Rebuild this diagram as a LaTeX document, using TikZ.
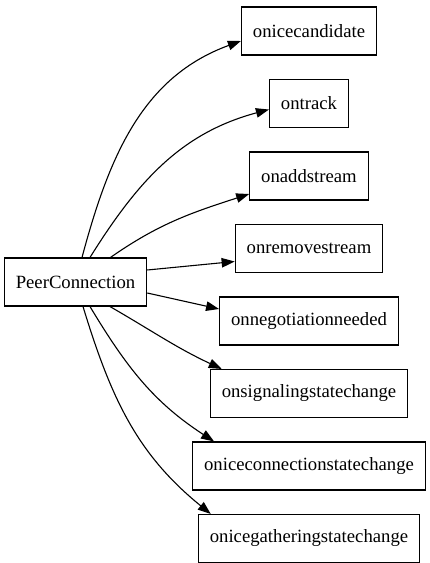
\documentclass[tikz,border=0pt]{standalone}
\usepackage{fontspec}
\setmainfont{Liberation Serif}
\newfontfamily\handlerfont{Liberation Serif}
\usetikzlibrary{
  positioning,
  arrows.meta,
  calc
}
\tikzset{
  base/.style={
    draw, line width=1.1pt, minimum height=48pt,
    inner xsep=11.5pt, font=\handlerfont\fontsize{18.7}{22}\selectfont
  },
  sourceNode/.style={base},
  handlerNode/.style={base},
  handlerArrow/.style={
    draw, -{Triangle[length=13pt,width=9.5pt]}, line width=1.1pt
  }
}

\begin{document}
\begin{tikzpicture}[x=1pt, y=1pt, node distance=23.4pt]
\useasboundingbox (0,0) rectangle (430,-563);

% ── SOURCE ─────────────────────────────────────────────────────────
\node[sourceNode] (pc) at (75.5,-282) {PeerConnection};

% ── HANDLERS ───────────────────────────────────────────────────────
\node[handlerNode] (h1) at (309,-31) {onicecandidate};
\node[handlerNode, below=of h1] (h2) {ontrack};
\node[handlerNode, below=of h2] (h3) {onaddstream};
\node[handlerNode, below=of h3] (h4) {onremovestream};
\node[handlerNode, below=of h4] (h5) {onnegotiationneeded};
\node[handlerNode, below=of h5] (h6) {onsignalingstatechange};
\node[handlerNode, below=of h6] (h7) {oniceconnectionstatechange};
\node[handlerNode, below=of h7] (h8) {onicegatheringstatechange};

% ── EDGES ───────────────────────────────────────────────────────────
% upper fan
\draw[handlerArrow] ([xshift=6.5pt]pc.north) to[out=75, in=200] ([yshift=-10pt]h1.west);
\draw[handlerArrow] ([xshift=14.5pt]pc.north) to[out=58, in=195] ([yshift=-6pt]h2.west);
\draw[handlerArrow] ([xshift=35pt]pc.north) to[out=35, in=198] ([yshift=-18pt]h3.west);

% straight ones
\draw[handlerArrow] ([yshift=12pt]pc.east) -- ([yshift=-13pt]h4.west);
\draw[handlerArrow] ([yshift=-11pt]pc.east) -- ([yshift=12pt]h5.west);

% lower fan
\draw[handlerArrow] ([xshift=34.5pt]pc.south) to[out=-30, in=155] ([xshift=12pt]h6.north west);
\draw[handlerArrow] ([xshift=14.5pt]pc.south) to[out=-59, in=147] ([xshift=22pt]h7.north west);
\draw[handlerArrow] ([xshift=7.5pt]pc.south) to[out=-73, in=141] ([xshift=13pt]h8.north west);

\end{tikzpicture}
\end{document}
